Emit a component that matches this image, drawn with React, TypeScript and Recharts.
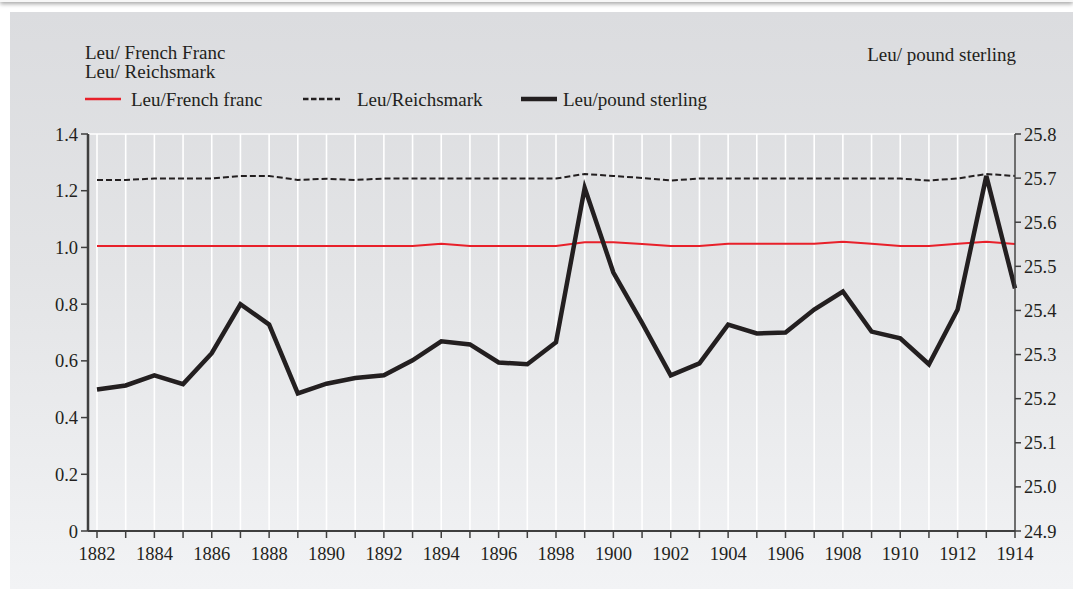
import { LineChart, Line, XAxis, YAxis, CartesianGrid, ReferenceLine } from 'recharts'

const YEARS = [
  1882, 1883, 1884, 1885, 1886, 1887, 1888, 1889, 1890, 1891, 1892, 1893, 1894, 1895, 1896, 1897,
  1898, 1899, 1900, 1901, 1902, 1903, 1904, 1905, 1906, 1907, 1908, 1909, 1910, 1911, 1912, 1913, 1914,
]

const FRANC = [
  1.005, 1.005, 1.005, 1.005, 1.005, 1.005, 1.005, 1.005, 1.005, 1.005, 1.005, 1.005, 1.013, 1.005,
  1.005, 1.005, 1.005, 1.018, 1.018, 1.012, 1.005, 1.005, 1.013, 1.013, 1.013, 1.013, 1.02, 1.013,
  1.005, 1.005, 1.013, 1.02, 1.012,
]

const MARK = [
  1.238, 1.238, 1.243, 1.243, 1.243, 1.252, 1.252, 1.238, 1.242, 1.238, 1.243, 1.243, 1.243, 1.243,
  1.243, 1.243, 1.243, 1.259, 1.252, 1.245, 1.236, 1.243, 1.243, 1.243, 1.243, 1.243, 1.243, 1.243,
  1.243, 1.236, 1.243, 1.259, 1.252,
]

const STERLING = [
  25.221, 25.23, 25.253, 25.233, 25.303, 25.414, 25.368, 25.212, 25.234, 25.247, 25.253, 25.287,
  25.33, 25.323, 25.282, 25.278, 25.328, 25.678, 25.486, 25.372, 25.253, 25.28, 25.368, 25.348,
  25.35, 25.402, 25.443, 25.352, 25.337, 25.278, 25.402, 25.705, 25.45,
]

const LEFT_TICKS = [0, 0.2, 0.4, 0.6, 0.8, 1.0, 1.2, 1.4]
const RIGHT_TICKS = [24.9, 25.0, 25.1, 25.2, 25.3, 25.4, 25.5, 25.6, 25.7, 25.8]

const FONT = '"Liberation Serif", "Times New Roman", serif'
const INK = '#231f20'
const AXIS = '#3f3f3f'
const RED = '#e8202a'

const data = YEARS.map((year, i) => ({
  year,
  franc: FRANC[i],
  mark: MARK[i],
  sterling: STERLING[i],
}))

function YearTick(props: any) {
  const { x, y, payload } = props
  if (payload.value % 2 !== 0) return <g />
  return (
    <text
      x={x}
      y={y}
      dy="0.71em"
      textAnchor="middle"
      fontSize={18.5}
      fill={INK}
      style={{ fontFamily: FONT }}
    >
      {payload.value}
    </text>
  )
}

function SideTick(props: any) {
  const { x, y, payload, anchor } = props
  const v = Number(payload.value)
  const label = v === 0 ? '0' : v.toFixed(1)
  return (
    <text
      x={x}
      y={y}
      dy="0.355em"
      textAnchor={anchor}
      fontSize={18.5}
      fill={INK}
      style={{ fontFamily: FONT }}
    >
      {label}
    </text>
  )
}

export default function App() {
  return (
    <div
      style={{
        position: 'absolute',
        left: 0,
        top: 0,
        width: 1073,
        height: 589,
        background: '#ffffff',
        overflow: 'hidden',
        fontFamily: FONT,
      }}
    >
      <div
        style={{
          position: 'absolute',
          left: 0,
          top: -10,
          width: 1073,
          height: 12,
          background: '#f7f7f7',
          boxShadow: '0 2px 4px rgba(0,0,0,0.35)',
        }}
      />
      <div
        style={{
          position: 'absolute',
          left: 10,
          top: 12,
          width: 1063,
          height: 577,
          background: 'linear-gradient(to bottom, #dbdcdf 0%, #e3e4e6 45%, #f2f3f5 100%)',
        }}
      />
      <svg
        width={1073}
        height={589}
        style={{ position: 'absolute', left: 0, top: 0, pointerEvents: 'none' }}
      >
        <g fontSize={19} fill={INK} style={{ fontFamily: FONT }}>
          <text x={85} y={59}>Leu/ French Franc</text>
          <text x={85} y={78}>Leu/ Reichsmark</text>
          <text x={1016} y={61} textAnchor="end">Leu/ pound sterling</text>

          <line x1={85} y1={99} x2={121} y2={99} stroke={RED} strokeWidth={2.5} />
          <text x={131} y={106}>Leu/French franc</text>
          <line x1={303} y1={99} x2={340} y2={99} stroke={INK} strokeWidth={2.5} strokeDasharray="5.5 2.5" />
          <text x={357} y={106}>Leu/Reichsmark</text>
          <line x1={521} y1={99} x2={557} y2={99} stroke={INK} strokeWidth={4.5} />
          <text x={563} y={106}>Leu/pound sterling</text>
        </g>
      </svg>
      <div style={{ position: 'absolute', left: 0, top: 0 }}>
        <LineChart width={1073} height={589} data={data} margin={{ top: 134, right: 0, bottom: 28, left: 0 }}>
          <CartesianGrid yAxisId="left" horizontal={false} stroke="#ffffff" strokeWidth={1.6} />
          <ReferenceLine yAxisId="left" y={1.4} stroke="#ffffff" strokeWidth={1.6} />
          <XAxis
            dataKey="year"
            type="number"
            domain={[1882, 1914]}
            ticks={YEARS}
            interval={0}
            padding={{ left: 9, right: 0 }}
            height={30}
            tick={<YearTick />}
            tickSize={7}
            tickMargin={9}
            tickLine={{ stroke: AXIS, strokeWidth: 1.5 }}
            axisLine={{ stroke: AXIS, strokeWidth: 2 }}
          />
          <YAxis
            yAxisId="left"
            orientation="left"
            width={88}
            domain={[0, 1.4]}
            ticks={LEFT_TICKS}
            interval={0}
            tick={<SideTick anchor="end" />}
            tickSize={7}
            tickMargin={3}
            tickLine={{ stroke: AXIS, strokeWidth: 1.5 }}
            axisLine={{ stroke: AXIS, strokeWidth: 2.5 }}
          />
          <YAxis
            yAxisId="right"
            orientation="right"
            width={58}
            domain={[24.9, 25.8]}
            ticks={RIGHT_TICKS}
            interval={0}
            tick={<SideTick anchor="start" />}
            tickSize={6}
            tickMargin={3}
            tickLine={{ stroke: AXIS, strokeWidth: 1.5 }}
            axisLine={{ stroke: AXIS, strokeWidth: 1.5 }}
          />
          <Line
            yAxisId="left"
            type="linear"
            dataKey="franc"
            stroke={RED}
            strokeWidth={2}
            dot={false}
            activeDot={false}
            isAnimationActive={false}
          />
          <Line
            yAxisId="left"
            type="linear"
            dataKey="mark"
            stroke={INK}
            strokeWidth={2}
            strokeDasharray="6 3"
            dot={false}
            activeDot={false}
            isAnimationActive={false}
          />
          <Line
            yAxisId="right"
            type="linear"
            dataKey="sterling"
            stroke={INK}
            strokeWidth={4.5}
            dot={false}
            activeDot={false}
            isAnimationActive={false}
          />
        </LineChart>
      </div>
    </div>
  )
}
